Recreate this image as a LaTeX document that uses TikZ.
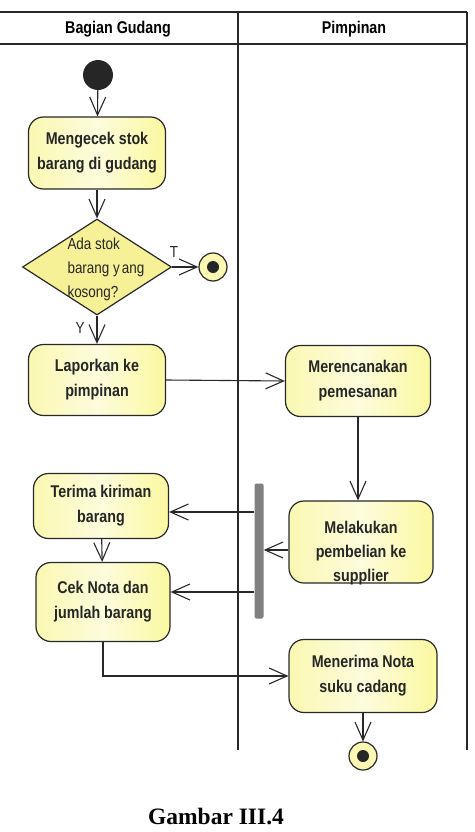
\documentclass[tikz,border=0pt]{standalone}
\usepackage{fontspec}
\usetikzlibrary{shapes.geometric,arrows.meta}
\newfontfamily\umlfont[FakeStretch=0.84]{Liberation Sans}
\newfontfamily\capfont{Liberation Serif}
\definecolor{actfill}{RGB}{250,248,178}
\definecolor{decfill}{RGB}{246,241,150}
\definecolor{umlline}{RGB}{40,40,40}
\begin{document}
\begin{tikzpicture}[x=1pt,y=-1pt,
  act/.style={draw=umlline,line width=1.2pt,rounded corners=15pt,
    left color=actfill,right color=actfill!90!yellow,middle color=white!55!actfill,
    align=center,inner sep=0pt,text=black!85,
    font=\umlfont\bfseries\fontsize{17}{25}\selectfont},
  acttext/.style={align=center,text=black!85,font=\umlfont\bfseries\fontsize{17}{24}\selectfont},
  lane/.style={line width=1.2pt,draw=umlline},
  flow/.style={line width=1.1pt,draw=umlline,-{Straight Barb[length=18pt,width=16pt,line width=1.1pt]}},
  finish/.style={circle,draw=umlline,line width=1.2pt,fill=actfill,minimum size=28pt,inner sep=0pt},
  guard/.style={inner sep=0pt,text=black!85,font=\umlfont\fontsize{16}{18}\selectfont}]
\useasboundingbox (0,0) rectangle (474,832);

% swimlanes
\draw[lane] (0,12) -- (467,12);
\draw[lane] (0,44) -- (467,44);
\draw[lane] (238,12) -- (238,750);
\draw[lane] (467,12) -- (467,750);
\node[font=\umlfont\bfseries\fontsize{17}{18}\selectfont] at (118,29) {Bagian Gudang};
\node[font=\umlfont\bfseries\fontsize{17}{18}\selectfont] at (354,29) {Pimpinan};

% actions
\node[circle,fill=black!85,minimum size=30pt,inner sep=0pt] (mulai) at (98,75) {};
\node[act,minimum width=137pt,minimum height=72pt] (cek) at (97,153) {Mengecek stok\\barang di gudang};
\node[diamond,draw=umlline,line width=1.2pt,fill=decfill,minimum width=149pt,minimum height=96pt,inner sep=0pt] (ada) at (97,267) {};
\node[anchor=west,align=left,text=black!85,font=\umlfont\fontsize{16}{24}\selectfont] at (64,269) {Ada stok\\barang y\kern2pt ang\\kosong?};
\node[finish] (selesai1) at (213,267) {};
\fill[black!85] (selesai1) circle (6pt);
\node[guard] (t) at (174,252) {T};
\node[guard] (y) at (80,328) {Y};
\node[act,minimum width=137pt,minimum height=71pt] (lapor) at (97,380) {Laporkan ke\\pimpinan};
\node[act,minimum width=145pt,minimum height=71pt] (rencana) at (358,381) {Merencanakan\\pemesanan};
\node[act,minimum width=144pt,minimum height=82pt] (beli) at (361,542) {};
\node[acttext] at (361,553) {Melakukan\\pembelian ke\\supplier};
\node[fill=black!50,minimum width=9pt,minimum height=135pt,inner sep=0pt,rounded corners=2pt] (fork) at (259,551) {};
\node[act,minimum width=135pt,minimum height=65pt] (terima) at (101,506) {Terima kiriman\\barang};
\node[act,minimum width=134pt,minimum height=79pt] (nota) at (103,602) {Cek Nota dan\\jumlah barang};
\node[act,minimum width=148pt,minimum height=73pt] (nerima) at (363,676) {Menerima Nota\\suku cadang};
\node[finish] (selesai2) at (363,756) {};
\fill[black!85] (selesai2) circle (6pt);

% flows
\coordinate (beliIn) at ([yshift=-8pt]beli.west);
\coordinate (terimaIn) at ([yshift=-6pt]terima.east);
\coordinate (notaIn) at ([yshift=10pt]nota.east);
\draw[flow] (mulai) -- (cek);
\draw[flow] (cek) -- (ada);
\draw[flow] (ada.east) -- (selesai1.west);
\draw[flow] (ada.south) -- (lapor.north);
\draw[flow] (lapor.east) -- (rencana.west);
\draw[flow] (rencana.south) -- (rencana.south |- beli.north);
\draw[flow] (beliIn) -- (fork.east |- beliIn);
\draw[flow] (fork.west |- terimaIn) -- (terimaIn);
\draw[flow] (fork.west |- notaIn) -- (notaIn);
\draw[flow] (terima) -- (nota);
\draw[flow] (nota.south) |- (nerima.west);
\draw[flow] (nerima) -- (selesai2);

\node[font=\capfont\bfseries\fontsize{23.5}{26}\selectfont] at (216,817) {Gambar III.4};
\end{tikzpicture}
\end{document}
